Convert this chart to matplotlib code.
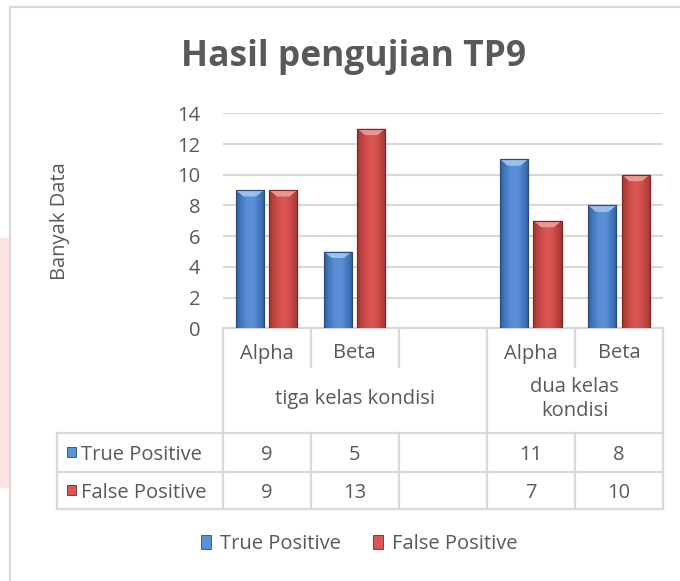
import numpy as np
import matplotlib
matplotlib.use('Agg')
import matplotlib.pyplot as plt
from matplotlib.patches import Rectangle, Polygon
from matplotlib.lines import Line2D
import matplotlib.transforms as mtransforms
from matplotlib.colors import to_rgb

# ---------------- data ----------------
title = "Hasil pengujian TP9"
ylabel = "Banyak Data"
categories = ["Alpha", "Beta", "", "Alpha", "Beta"]
groups = ["tiga kelas kondisi", "dua kelas\nkondisi"]
group_spans = [(0, 2), (3, 4)]
series_names = ["True Positive", "False Positive"]
true_positive = [9, 5, np.nan, 11, 8]
false_positive = [9, 13, np.nan, 7, 10]
yticks = [0, 2, 4, 6, 8, 10, 12, 14]

# ---------------- style ----------------
plt.rcParams['font.family'] = ['Open Sans', 'DejaVu Sans']
TXT = '#595959'
GRID = '#D9D9D9'
BLUE_DARK, BLUE_LIGHT, BLUE_EDGE, BLUE_TOP = '#2F5E9E', '#5A92DA', '#2A4D80', '#A9C8F0'
RED_DARK, RED_LIGHT, RED_EDGE, RED_TOP = '#A3322F', '#DA5553', '#7E2624', '#EFA3A1'
FS = 14.5

W, H = 680, 581
fig = plt.figure(figsize=(W / 100, H / 100), dpi=100)
fig.patch.set_facecolor('white')

def fx(px):
    return px / W

def fy(px):
    return 1 - px / H

# page artefacts: pink strip at left and chart frame
fig.add_artist(Rectangle((0, fy(488)), fx(10), fy(238) - fy(488), transform=fig.transFigure,
                         facecolor='#FDE2E2', edgecolor='none'))
fig.add_artist(Line2D([fx(10), fx(10)], [fy(7), 0], transform=fig.transFigure, color=GRID, lw=1.6))
fig.add_artist(Line2D([fx(10), 1], [fy(7), fy(7)], transform=fig.transFigure, color=GRID, lw=1.6))

ax = fig.add_axes([fx(222.5), fy(328.3), fx(663) - fx(222.5), fy(113.3) - fy(328.3)])

x = np.arange(len(categories))
off = 0.19
bw = 0.32

def gradient(dark, light, n=64):
    d = np.array(to_rgb(dark))
    l = np.array(to_rgb(light))
    t = np.linspace(0, 1, n)
    prof = 1 - np.abs(2 * t - 1) ** 1.6
    return (d[None, :] * (1 - prof[:, None]) + l[None, :] * prof[:, None])[None, :, :]

series = [(true_positive, -off, BLUE_DARK, BLUE_LIGHT, BLUE_EDGE, BLUE_TOP),
          (false_positive, off, RED_DARK, RED_LIGHT, RED_EDGE, RED_TOP)]
for vals, o, dk, lt, ed, tp in series:
    bars = ax.bar(x + o, vals, width=bw, color=lt, edgecolor=ed, linewidth=0.8, zorder=3)
    grad = gradient(dk, lt)
    for b in bars:
        h = b.get_height()
        if not np.isfinite(h) or h <= 0:
            continue
        x0 = b.get_x()
        w = b.get_width()
        im = ax.imshow(grad, extent=[x0, x0 + w, 0, h], aspect='auto', zorder=3.5,
                       interpolation='bilinear')
        im.set_clip_path(b)
        bev = 0.42
        ax.add_patch(Polygon([[x0, h], [x0 + w, h], [x0 + w * 0.72, h - bev], [x0 + w * 0.28, h - bev]],
                             closed=True, facecolor=tp, edgecolor='none', alpha=0.85, zorder=3.6))
        ax.add_patch(Rectangle((x0, 0), w, h, facecolor='none', edgecolor=ed, lw=0.8, zorder=3.7))

ax.set_xlim(-0.5, len(categories) - 0.5)
ax.set_ylim(0, 14)
ax.set_yticks(yticks)
ax.set_yticklabels([str(v) for v in yticks])
ax.tick_params(axis='y', length=0, pad=16, labelsize=FS, labelcolor=TXT)
ax.set_xticks([])
ax.grid(axis='y', color=GRID, lw=1.5, zorder=0)
for s in ax.spines.values():
    s.set_visible(False)

# ---------------- data table under the axis ----------------
tr = mtransforms.blended_transform_factory(ax.transData, fig.transFigure)
xl, xr = -0.5, len(categories) - 0.5
lab_left = xl - (222.5 - 57) / ((663 - 222.5) / len(categories))
y_axis, y_cat, y_grp, y_tp, y_fp = 328.3, 367, 433, 471.7, 509

def hline(x0, x1, ypx):
    ax.add_line(Line2D([x0, x1], [fy(ypx), fy(ypx)], transform=tr, color=GRID, lw=1.6, clip_on=False))

def vline(xv, y0, y1):
    ax.add_line(Line2D([xv, xv], [fy(y0), fy(y1)], transform=tr, color=GRID, lw=1.6, clip_on=False))

hline(xl, xr, y_axis)
for yy in (y_grp, y_tp, y_fp):
    hline(lab_left, xr, yy)
vline(lab_left, y_grp, y_fp)
for xv in (xl, xr):
    vline(xv, y_axis, y_fp)
# group boundary
vline(group_spans[0][1] + 0.5, y_axis, y_fp)
# inner category boundaries
for i in range(len(categories) - 1):
    xv = i + 0.5
    if any(abs(xv - (g[1] + 0.5)) < 1e-9 for g in group_spans):
        continue
    vline(xv, y_axis, y_cat)
    vline(xv, y_grp, y_fp)

for i, c in enumerate(categories):
    ax.text(i, fy(351), c, transform=tr, ha='center', va='center_baseline', fontsize=FS, color=TXT)
for g, (a, b) in zip(groups, group_spans):
    ax.text((a + b) / 2, fy(399), g, transform=tr, ha='center', va='center', fontsize=FS,
            color=TXT, linespacing=1.2)

row_vals = [true_positive, false_positive]
row_y = [452, 490]
mark_cols = [(BLUE_DARK, BLUE_LIGHT, BLUE_EDGE), (RED_DARK, RED_LIGHT, RED_EDGE)]
for name, vals, yy, (dk, lt, ed) in zip(series_names, row_vals, row_y, mark_cols):
    for i, v in enumerate(vals):
        if np.isfinite(v):
            ax.text(i, fy(yy), f"{int(v)}", transform=tr, ha='center', va='center_baseline',
                    fontsize=FS, color=TXT)
    fig.add_artist(Rectangle((fx(67), fy(yy + 5)), fx(9), fy(yy - 5) - fy(yy + 5),
                             transform=fig.transFigure, facecolor=lt, edgecolor=ed, lw=0.6))
    fig.text(fx(81), fy(yy), name, ha='left', va='center_baseline', fontsize=FS, color=TXT)

# ---------------- title, y label, legend ----------------
fig.text(fx(354), fy(66), title, ha='center', va='baseline', fontsize=25.5, fontweight='bold', color=TXT)
fig.text(fx(60), fy(221), ylabel, rotation=90, ha='center', va='center', fontsize=FS, color=TXT)

handles = [Rectangle((0, 0), 1, 1, facecolor=BLUE_LIGHT, edgecolor=BLUE_EDGE, lw=0.6),
           Rectangle((0, 0), 1, 1, facecolor=RED_LIGHT, edgecolor=RED_EDGE, lw=0.6)]
fig.legend(handles, series_names, loc='center', bbox_to_anchor=(fx(359), fy(544)), ncol=2,
           frameon=False, fontsize=FS, labelcolor=TXT, handlelength=0.5, handleheight=0.75,
           handletextpad=0.45, columnspacing=1.6)

fig.savefig('out.png', dpi=100)
